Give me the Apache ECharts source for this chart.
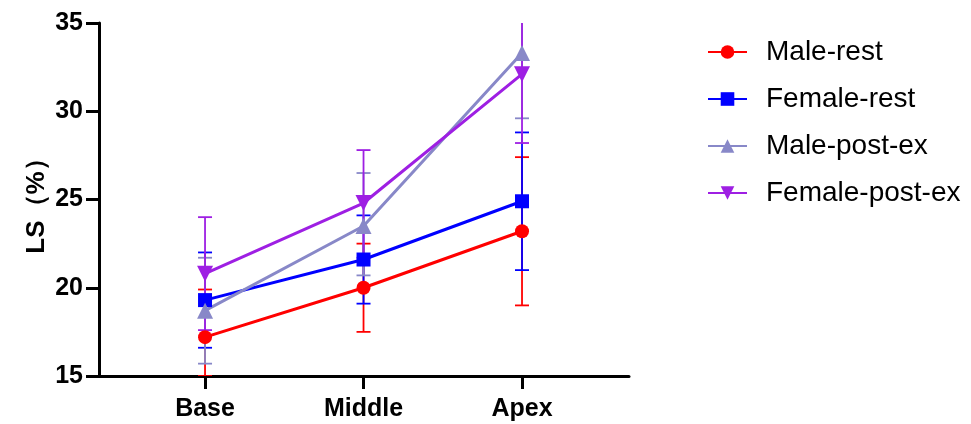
<!DOCTYPE html>
<html>
<head>
<meta charset="utf-8">
<script src="https://cdn.jsdelivr.net/npm/echarts@6/dist/echarts.min.js"></script>
<style>html,body{margin:0;padding:0;background:#fff}#c{width:971px;height:424px}</style>
</head>
<body>
<div id="c"></div>
<script>
const categories = ['Base', 'Middle', 'Apex'];
const seriesNames = ['Male-rest', 'Female-rest', 'Male-post-ex', 'Female-post-ex'];
const yTicks = [15, 20, 25, 30, 35];

const maleRest = [17.2, 20.0, 23.2];
const maleRestLow = [15.0, 17.5, 19.0];
const maleRestHigh = [19.9, 22.5, 27.4];

const femaleRest = [19.3, 21.6, 24.9];
const femaleRestLow = [16.6, 19.1, 21.0];
const femaleRestHigh = [22.0, 24.1, 28.8];

const malePost = [18.7, 23.5, 33.3];
const malePostLow = [15.7, 20.7, 29.6];
const malePostHigh = [21.7, 26.5, 37.0];

const femalePost = [20.8, 24.8, 32.1];
const femalePostLow = [17.6, 21.7, 28.2];
const femalePostHigh = [24.0, 27.8, 36.0];

const colors = ['#FF0000', '#0000FF', '#8888C8', '#9E1FE3'];
const symbols = ['circle', 'rect', 'triangle', 'path://M0,0 L10,0 L5,9 Z'];
const symbolSizes = [14, 14, 16, 16];
const means = [maleRest, femaleRest, malePost, femalePost];
const lows = [maleRestLow, femaleRestLow, malePostLow, femalePostLow];
const highs = [maleRestHigh, femaleRestHigh, malePostHigh, femalePostHigh];

const FONT = 'Liberation Sans, Arial, sans-serif';

const chart = echarts.init(document.getElementById('c'));

const series = [];
means.forEach((m, i) => {
  series.push({
    type: 'custom',
    name: seriesNames[i] + '-err',
    clip: true,
    z: 1,
    silent: true,
    renderItem: function (params, api) {
      const x = api.value(0), lo = api.value(1), hi = api.value(2);
      const p1 = api.coord([x, hi]);
      const p2 = api.coord([x, lo]);
      const w = 7;
      const st = { stroke: colors[i], lineWidth: 1.8 };
      return {
        type: 'group',
        children: [
          { type: 'line', shape: { x1: p1[0], y1: p1[1], x2: p2[0], y2: p2[1] }, style: st },
          { type: 'line', shape: { x1: p1[0] - w, y1: p1[1], x2: p1[0] + w, y2: p1[1] }, style: st },
          { type: 'line', shape: { x1: p2[0] - w, y1: p2[1], x2: p2[0] + w, y2: p2[1] }, style: st }
        ]
      };
    },
    data: categories.map((c, k) => [k + 1, lows[i][k], highs[i][k]])
  });
});
means.forEach((m, i) => {
  series.push({
    type: 'line',
    name: seriesNames[i],
    z: 3,
    symbol: symbols[i],
    symbolSize: symbolSizes[i],
    itemStyle: { color: colors[i] },
    lineStyle: { color: colors[i], width: 3 },
    data: categories.map((c, k) => [k + 1, m[k]])
  });
});

chart.setOption({
  animation: false,
  backgroundColor: '#fff',
  grid: { left: 99, right: 342, top: 23, bottom: 48 },
  legend: {
    data: seriesNames,
    orient: 'vertical',
    left: 702,
    top: 32,
    itemWidth: 39,
    itemHeight: 17,
    itemGap: 17,
    textStyle: { fontFamily: FONT, fontSize: 28, color: '#000', lineHeight: 30, padding: [0, 0, 0, 14] }
  },
  xAxis: {
    type: 'value',
    min: 0.331,
    max: 3.675,
    splitLine: { show: false },
    axisLine: { lineStyle: { color: '#000', width: 3 } },
    axisTick: { show: true, customValues: [1, 2, 3], length: 13, lineStyle: { color: '#000', width: 3 } },
    axisLabel: {
      customValues: [1, 2, 3],
      formatter: v => categories[Math.round(v) - 1] || '',
      fontFamily: FONT, fontSize: 25, fontWeight: 'bold', color: '#000', margin: 21
    }
  },
  yAxis: {
    type: 'value',
    min: yTicks[0],
    max: yTicks[yTicks.length - 1],
    interval: 5,
    name: 'LS（%）',
    nameLocation: 'middle',
    nameGap: 49,
    nameMoveOverlap: false,
    nameRotate: 90,
    nameTextStyle: { fontFamily: FONT, fontSize: 26, fontWeight: 'bold', color: '#000' },
    splitLine: { show: false },
    axisLine: { show: true, lineStyle: { color: '#000', width: 3 } },
    axisTick: { show: true, length: 13, lineStyle: { color: '#000', width: 3 } },
    axisLabel: { fontFamily: FONT, fontSize: 25, fontWeight: 'bold', color: '#000', margin: 16 }
  },
  series: series
});
</script>
</body>
</html>
